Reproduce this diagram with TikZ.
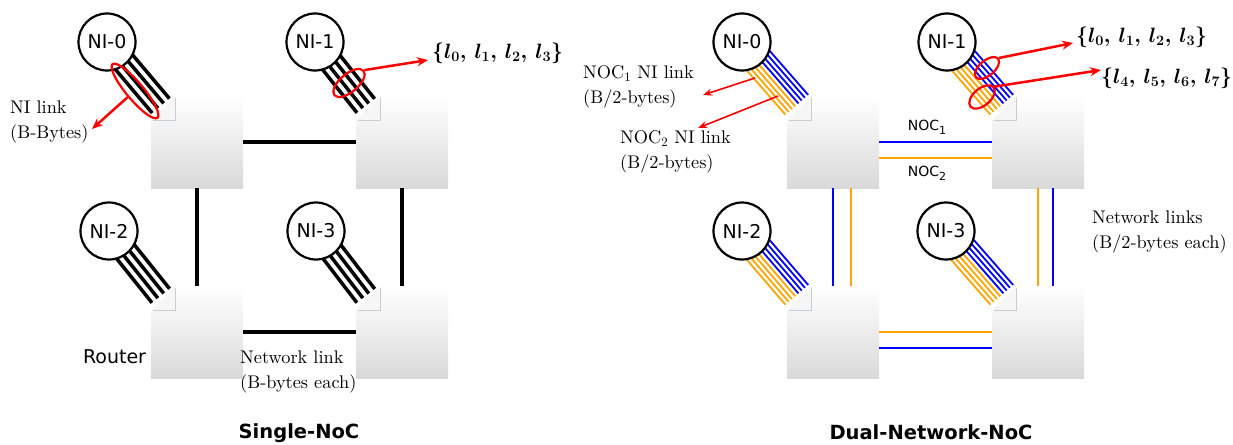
\documentclass[tikz,border=0pt]{standalone}
\usepackage{fontspec}
\usetikzlibrary{calc,shapes.geometric,arrows.meta}
\newfontfamily\djs{DejaVu Sans}
\newfontfamily\serifx[Extension=.otf]{lmroman10-regular}
\definecolor{nocblue}{RGB}{0,0,255}
\definecolor{nocorange}{RGB}{255,165,0}
\definecolor{notchgray}{RGB}{200,205,210}
\definecolor{notchfill}{RGB}{246,246,246}
\definecolor{boxbottom}{RGB}{217,217,217}
\begin{document}
\begin{tikzpicture}[x=1pt,y=-1pt,
  router/.style={minimum width=92pt,minimum height=92pt,inner sep=0pt,top color=white,bottom color=boxbottom},
  ni/.style={circle,draw,line width=2.2pt,fill=white,minimum size=57pt,inner sep=0pt,font=\djs\fontsize{19}{19}\selectfont},
  blink/.style={line width=3.5pt},
  olink/.style={nocorange,line width=1.8pt},
  bllink/.style={nocblue,line width=1.8pt},
  netblack/.style={line width=4pt},
  netblue/.style={nocblue,line width=2pt},
  netorange/.style={nocorange,line width=2pt},
  notchline/.style={notchgray,line width=1.3pt},
  redell/.style={ellipse,draw=red,line width=2.2pt,inner sep=0pt},
  redarrow/.style={red,line width=2.5pt,-{Stealth[length=11pt,width=9pt]}},
  thinred/.style={red,line width=1.6pt,-{Stealth[length=9pt,width=7pt]}},
  serif/.style={font=\serifx\fontsize{18.3}{25}\selectfont,align=left,anchor=west,inner sep=0pt},
  sanslbl/.style={font=\djs\fontsize{19}{19}\selectfont,inner sep=0pt},
  noclbl/.style={font=\djs\fontsize{14}{14}\selectfont,inner sep=0pt},
  title/.style={font=\djs\bfseries\fontsize{19.5}{20}\selectfont,inner sep=0pt},
  mathlbl/.style={font=\fontsize{19.5}{20}\selectfont\boldmath,anchor=west,inner sep=0pt}
]
\useasboundingbox (0,0) rectangle (1233,444);

% ---------- routers ----------
\node[router] (R0) at (197,142) {};
\node[router] (R1) at (402,142) {};
\node[router] (R2) at (197,332) {};
\node[router] (R3) at (402,332) {};
\node[router] (Q0) at (833,142) {};
\node[router] (Q1) at (1038,142) {};
\node[router] (Q2) at (833,332) {};
\node[router] (Q3) at (1038,332) {};

\foreach \r in {R0,R1,R2,R3,Q0,Q1,Q2,Q3}{
  \fill[white] (\r.north west) rectangle ++(25,25);
  \fill[notchfill] ($(\r.north west)+(25,0)$) -- ++(0,25) -- ++(-25,0) -- cycle;
  \draw[notchline] ($(\r.north west)+(25,2)$) -- ++(0,23) -- ++(-23,0);
}

% ---------- network links (single) ----------
\draw[netblack] (R0.east) -- (R1.west);
\draw[netblack] (R2.east) -- (R3.west);
\draw[netblack] (R0.south) -- (R2.north);
\draw[netblack] (R1.south) -- (R3.north);

% ---------- network links (dual) ----------
\draw[netblue] (Q0.east) -- (Q1.west);
\draw[netorange] ($(Q0.east)+(0,16)$) -- ($(Q1.west)+(0,16)$);
\draw[netorange] (Q2.east) -- (Q3.west);
\draw[netblue] ($(Q2.east)+(0,16)$) -- ($(Q3.west)+(0,16)$);
\draw[netblue] (Q0.south) -- (Q2.north);
\draw[netorange] ($(Q0.south)+(18,0)$) -- ($(Q2.north)+(18,0)$);
\draw[netorange] (Q1.south) -- (Q3.north);
\draw[netblue] ($(Q1.south)+(15,0)$) -- ($(Q3.north)+(15,0)$);

\node[noclbl] (noc1) at (927,127) {NOC\raisebox{-4pt}{\fontsize{11}{11}\selectfont 1}};
\node[noclbl] (noc2) at (927,173) {NOC\raisebox{-4pt}{\fontsize{11}{11}\selectfont 2}};

% ---------- NI centres ----------
\coordinate (c0) at (107,42);
\coordinate (c1) at (315,42);
\coordinate (c2) at (109,231);
\coordinate (c3) at (316,231);
\coordinate (d0) at (742,42);
\coordinate (d1) at (947,42);
\coordinate (d2) at (742,231);
\coordinate (d3) at (946,231);

% ---------- NI links (single) ----------
\foreach \c/\r in {c0/R0,c1/R1,c2/R2,c3/R3}{
  \coordinate (\c-end) at ($(\r.north west)+(10,10)$);
  \foreach \k in {-11.25,-3.75,3.75,11.25}
    \draw[blink] ($(\c)!\k pt!90:(\c-end)$) -- ($(\c-end)!\k pt!-90:(\c)$);
}
% ---------- NI links (dual) ----------
\foreach \c/\r in {d0/Q0,d1/Q1,d2/Q2,d3/Q3}{
  \coordinate (\c-end) at ($(\r.north west)+(10,9)$);
  \foreach \k in {-15.05,-10.75,-6.45,-2.15}
    \draw[olink] ($(\c)!\k pt!90:(\c-end)$) -- ($(\c-end)!\k pt!-90:(\c)$);
  \foreach \k in {2.15,6.45,10.75,15.05}
    \draw[bllink] ($(\c)!\k pt!90:(\c-end)$) -- ($(\c-end)!\k pt!-90:(\c)$);
}

% ---------- NI circles ----------
\node[ni] (n0) at (c0) {NI-0};
\node[ni] (n1) at (c1) {NI-1};
\node[ni] (n2) at (c2) {NI-2};
\node[ni] (n3) at (c3) {NI-3};
\node[ni] (m0) at (d0) {NI-0};
\node[ni] (m1) at (d1) {NI-1};
\node[ni] (m2) at (d2) {NI-2};
\node[ni] (m3) at (d3) {NI-3};

% ---------- labels ----------
\node[serif] (nilink) at (10,122) {NI link\\(B-Bytes)};
\node[serif] (netlink) at (240,372) {Network link\\(B-bytes each)};
\node[sanslbl] (router) at (114.5,357) {Router};
\node[title] (t1) at (299,433) {Single-NoC};
\node[title] (t2) at (931,432) {Dual-Network-NoC};

\node[serif] (noc1ni) at (583,87) {NOC\textsubscript{1} NI link\\(B/2-bytes)};
\node[serif] (noc2ni) at (620,152) {NOC\textsubscript{2} NI link\\(B/2-bytes)};
\node[serif] (netlinks) at (1092,232) {Network links\\(B/2-bytes each)};

\node[mathlbl] (L1) at (432,53) {$\{l_0,\, l_1,\, l_2,\, l_3\}$};
\node[mathlbl] (L2) at (1076,37) {$\{l_0,\, l_1,\, l_2,\, l_3\}$};
\node[mathlbl] (L3) at (1101,78) {$\{l_4,\, l_5,\, l_6,\, l_7\}$};

% ---------- red marks ----------
\node[redell,rotate=-50,minimum width=70pt,minimum height=17pt] (e0) at (135,91) {};
\node[redell,rotate=40,minimum width=38pt,minimum height=18pt] (e1) at (349,83) {};
\node[redell,rotate=40,minimum width=29pt,minimum height=15pt] (e2) at (987,68) {};
\node[redell,rotate=40,minimum width=30pt,minimum height=17pt] (e3) at (982,97) {};

\coordinate (t0) at (92,129);
\coordinate (t1) at (428,60);
\coordinate (t2) at (1073,43);
\coordinate (t3) at (1101,70);
\draw[redarrow] (e0.south) -- (t0);
\draw[redarrow] (e1.east) -- (t1);
\draw[redarrow] (e2.east) -- (t2);
\draw[redarrow] (e3.east) -- (t3);

\coordinate (s4) at (755,78);
\coordinate (t4) at (703,95);
\coordinate (s5) at (778,96);
\coordinate (t5) at (698,128);
\draw[thinred] (s4) -- (t4);
\draw[thinred] (s5) -- (t5);
\end{tikzpicture}
\end{document}
